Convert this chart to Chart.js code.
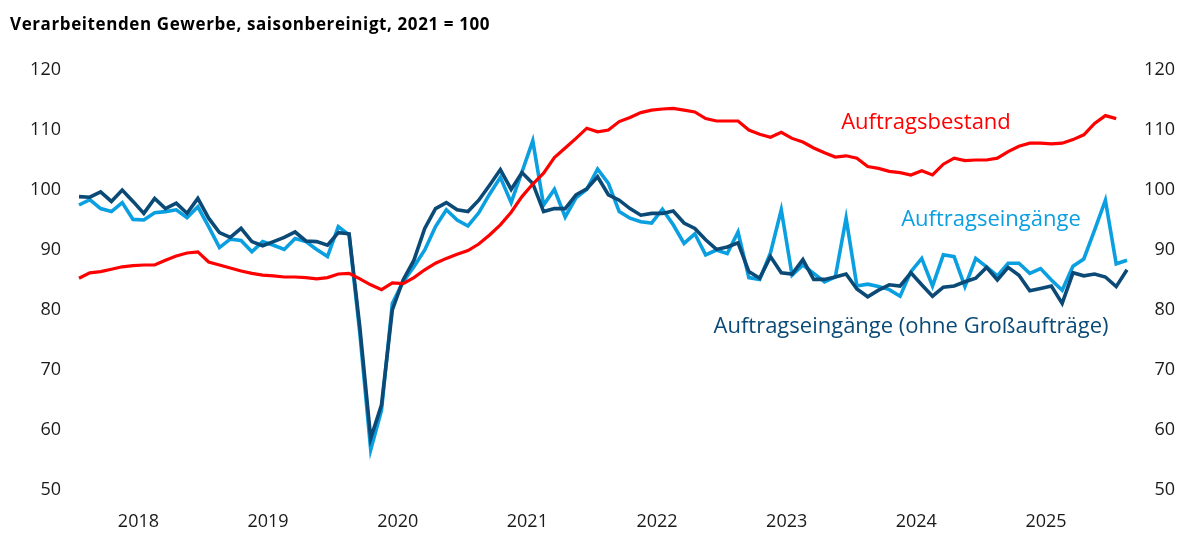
<!DOCTYPE html>
<html>
<head>
<meta charset="utf-8">
<script src="https://cdn.jsdelivr.net/npm/chart.js@4.4.1/dist/chart.umd.min.js"></script>
<style>
  html, body { margin: 0; padding: 0; background: #ffffff; }
  #wrap { width: 1200px; height: 543px; position: relative; }
  canvas { display: block; }
</style>
</head>
<body>
<div id="wrap"><canvas id="c" width="1200" height="543" style="width:1200px;height:543px"></canvas></div>
<script>
// ---- data (monthly, seasonally adjusted, 2021 = 100) ----
const months = [
  '2018-01','2018-02','2018-03','2018-04','2018-05','2018-06','2018-07','2018-08','2018-09','2018-10','2018-11','2018-12',
  '2019-01','2019-02','2019-03','2019-04','2019-05','2019-06','2019-07','2019-08','2019-09','2019-10','2019-11','2019-12',
  '2020-01','2020-02','2020-03','2020-04','2020-05','2020-06','2020-07','2020-08','2020-09','2020-10','2020-11','2020-12',
  '2021-01','2021-02','2021-03','2021-04','2021-05','2021-06','2021-07','2021-08','2021-09','2021-10','2021-11','2021-12',
  '2022-01','2022-02','2022-03','2022-04','2022-05','2022-06','2022-07','2022-08','2022-09','2022-10','2022-11','2022-12',
  '2023-01','2023-02','2023-03','2023-04','2023-05','2023-06','2023-07','2023-08','2023-09','2023-10','2023-11','2023-12',
  '2024-01','2024-02','2024-03','2024-04','2024-05','2024-06','2024-07','2024-08','2024-09','2024-10','2024-11','2024-12',
  '2025-01','2025-02','2025-03','2025-04','2025-05','2025-06','2025-07','2025-08','2025-09','2025-10','2025-11','2025-12',
  '2026-01','2026-02'
];

const auftragsbestand = [
  85.3, 86.2, 86.4, 86.8, 87.2, 87.4, 87.5, 87.5, 88.3, 89.0, 89.5, 89.7,
  88.0, 87.5, 87.0, 86.5, 86.1, 85.8, 85.7, 85.5, 85.5, 85.4, 85.2, 85.4,
  86.0, 86.1, 85.2, 84.2, 83.4, 84.5, 84.4, 85.4, 86.7, 87.8, 88.6, 89.3,
  89.9, 91.0, 92.5, 94.2, 96.3, 98.9, 101.0, 102.8, 105.4, 107.0, 108.6, 110.3,
  109.7, 110.0, 111.4, 112.1, 112.9, 113.3, 113.5, 113.6, 113.3, 113.0, 111.9, 111.5,
  111.5, 111.5, 110.0, 109.3, 108.8, 109.6, 108.6, 108.0, 107.0, 106.2, 105.5, 105.7,
  105.3, 103.9, 103.6, 103.1, 102.9, 102.5, 103.2, 102.5, 104.3, 105.3, 104.9, 105.0,
  105.0, 105.3, 106.4, 107.3, 107.8, 107.8, 107.7, 107.8, 108.4, 109.2, 111.1, 112.4,
  111.9, null
];

const auftragseingaenge = [
  97.5, 98.4, 96.9, 96.4, 97.9, 95.1, 95.0, 96.2, 96.4, 96.7, 95.4, 97.2,
  93.9, 90.4, 91.8, 91.6, 89.7, 91.4, 90.8, 90.1, 91.9, 91.4, 90.1, 88.9,
  93.9, 92.5, 76.0, 56.7, 63.3, 81.1, 84.7, 87.2, 90.0, 93.9, 96.7, 95.0,
  94.0, 96.2, 99.3, 102.1, 97.9, 103.0, 108.2, 97.5, 100.1, 95.5, 98.7, 100.1,
  103.5, 101.1, 96.4, 95.3, 94.7, 94.5, 96.8, 94.2, 91.1, 92.7, 89.2, 90.0,
  89.4, 93.0, 85.4, 85.1, 89.5, 96.7, 85.8, 87.5, 86.1, 84.7, 85.5, 95.3,
  84.0, 84.3, 83.9, 83.4, 82.3, 86.4, 88.6, 84.0, 89.2, 88.9, 83.9, 88.6,
  87.2, 85.7, 87.8, 87.8, 86.1, 86.9, 85.0, 83.3, 87.3, 88.5, 93.3, 98.3,
  87.7, 88.3
];

const ohneGrossauftraege = [
  98.9, 98.8, 99.7, 98.1, 100.0, 98.1, 96.1, 98.6, 96.9, 97.8, 96.1, 98.6,
  95.3, 92.9, 92.1, 93.6, 91.4, 90.7, 91.4, 92.1, 93.0, 91.5, 91.4, 90.8,
  92.9, 92.7, 77.0, 58.6, 64.2, 80.0, 85.0, 88.3, 93.6, 96.9, 97.9, 96.7,
  96.4, 98.3, 100.8, 103.4, 100.1, 102.9, 101.1, 96.4, 96.9, 96.9, 99.2, 100.2,
  102.2, 99.2, 98.3, 96.9, 95.8, 96.1, 96.1, 96.5, 94.5, 93.6, 91.7, 90.1,
  90.5, 91.2, 86.4, 85.3, 88.9, 86.2, 86.0, 88.4, 85.1, 85.1, 85.5, 86.0,
  83.5, 82.2, 83.3, 84.2, 84.0, 86.2, 84.2, 82.3, 83.8, 84.0, 84.7, 85.3,
  87.1, 85.0, 87.1, 85.8, 83.2, 83.6, 84.0, 81.1, 86.2, 85.7, 86.0, 85.5,
  83.9, 86.7
];

const yTicks = [50, 60, 70, 80, 90, 100, 110, 120];
const yearLabels = ['2018', '2019', '2020', '2021', '2022', '2023', '2024', '2025'];
const seriesNames = ['Auftragsbestand', 'Auftragseingänge', 'Auftragseingänge (ohne Großaufträge)'];
const titleText = 'Verarbeitenden Gewerbe, saisonbereinigt, 2021 = 100';

// ---- styling ----
const FONT = '"Open Sans", "Noto Sans", "DejaVu Sans", sans-serif';
const RED = '#ff0000';
const LIGHT = '#0a9fe0';
const DARK = '#0b4a76';
const TEXT = '#1a1a1a';

Chart.defaults.font.family = FONT;

const annotate = {
  id: 'annotate',
  afterDraw(chart) {
    const ctx = chart.ctx;
    ctx.save();
    ctx.textBaseline = 'alphabetic';
    ctx.textAlign = 'left';
    ctx.fillStyle = '#000000';
    ctx.font = 'bold 17px ' + FONT;
    if ('letterSpacing' in ctx) ctx.letterSpacing = '0.6px';
    ctx.fillText(titleText, 10, 30);
    if ('letterSpacing' in ctx) ctx.letterSpacing = '0px';

    ctx.textAlign = 'center';
    ctx.font = '22px ' + FONT;
    ctx.fillStyle = RED;
    ctx.fillText(seriesNames[0], 926, 129);
    ctx.fillStyle = LIGHT;
    ctx.fillText(seriesNames[1], 991, 226);
    ctx.fillStyle = DARK;
    ctx.fillText(seriesNames[2], 911, 333);
    ctx.restore();
  }
};

const yAxisCommon = {
  min: 50,
  max: 120,
  grid: { display: false, drawTicks: false },
  border: { display: false },
  afterBuildTicks(scale) { scale.ticks = yTicks.map(v => ({ value: v })); },
  ticks: { color: TEXT, font: { size: 18 }, padding: 18 }
};

new Chart(document.getElementById('c'), {
  type: 'line',
  data: {
    labels: months,
    datasets: [
      { label: seriesNames[2], data: ohneGrossauftraege, borderColor: DARK, borderWidth: 3.6, order: 1, yAxisID: 'y' },
      { label: seriesNames[0], data: auftragsbestand, borderColor: RED, borderWidth: 3.2, order: 0, yAxisID: 'y' },
      { label: seriesNames[1], data: auftragseingaenge, borderColor: LIGHT, borderWidth: 3.6, order: 2, yAxisID: 'y' }
    ]
  },
  options: {
    responsive: false,
    animation: false,
    devicePixelRatio: 1,
    layout: { padding: { top: 70, right: 25, bottom: 0, left: 0 } },
    elements: { point: { radius: 0, hoverRadius: 0 }, line: { tension: 0, fill: false } },
    plugins: { legend: { display: false }, title: { display: false }, tooltip: { enabled: false } },
    events: [],
    scales: {
      x: {
        type: 'category',
        offset: false,
        grid: { display: false, drawTicks: false },
        border: { display: false },
        ticks: {
          autoSkip: false, maxRotation: 0, minRotation: 0,
          color: TEXT, font: { size: 18 }, padding: 21, labelOffset: 5.4,
          callback(value, index) {
            const m = months[index];
            if (m.endsWith('-06') && yearLabels.includes(m.slice(0, 4))) return m.slice(0, 4);
            return '';
          }
        },
        afterFit(scale) { scale.height = 53; }
      },
      y: Object.assign({}, yAxisCommon, {
        position: 'left',
        afterFit(scale) { scale.width = 79; }
      }),
      y2: Object.assign({}, yAxisCommon, {
        position: 'right',
        ticks: { color: TEXT, font: { size: 18 }, padding: 18, crossAlign: 'far' },
        afterFit(scale) { scale.width = 48; }
      })
    }
  },
  plugins: [annotate]
});
</script>
</body>
</html>
